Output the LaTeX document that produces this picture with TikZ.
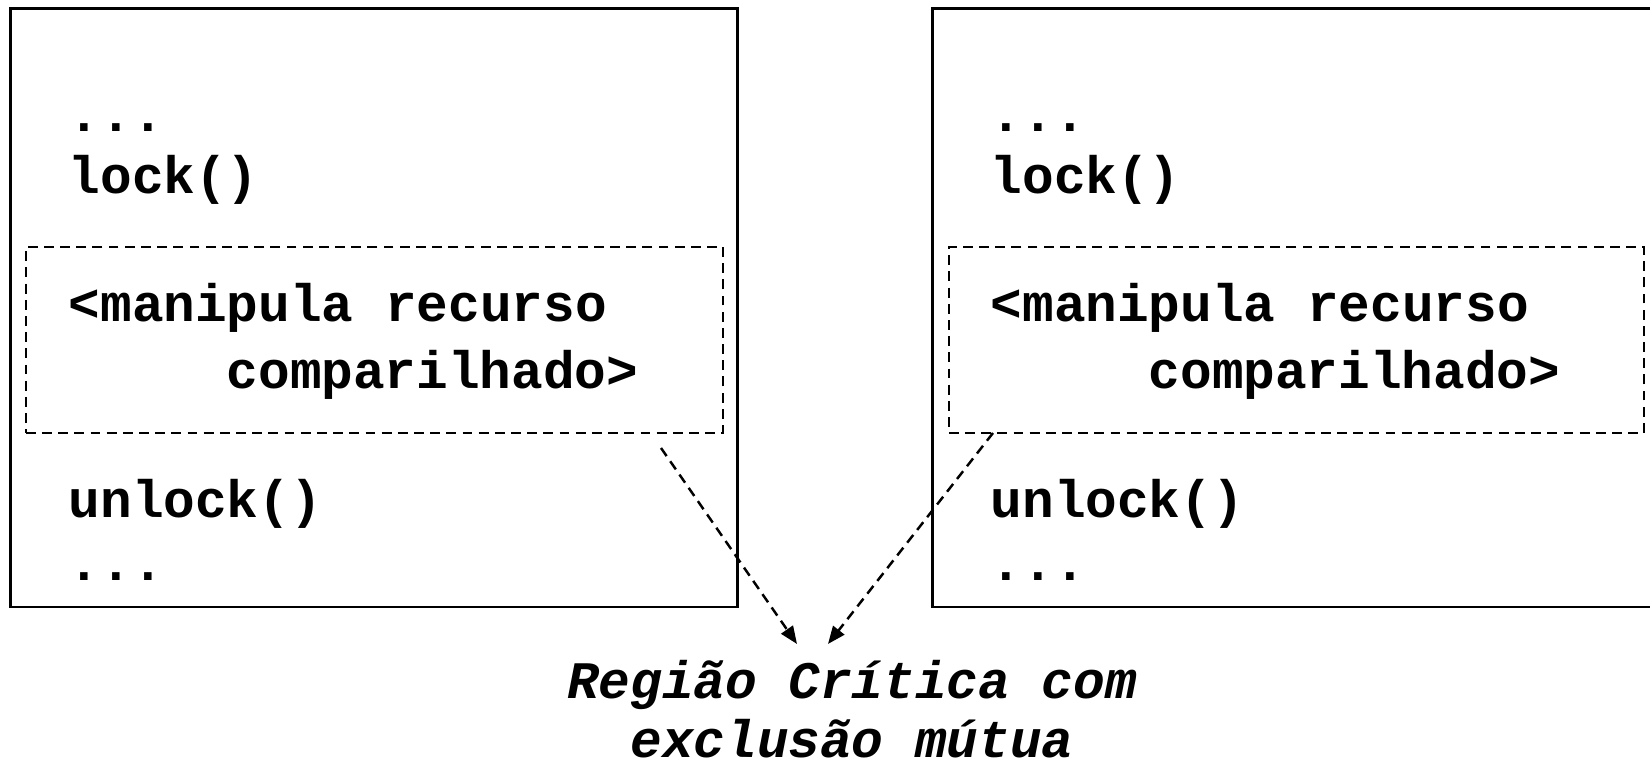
\documentclass[tikz,border=0pt]{standalone}
\usepackage{fontspec}
\setmonofont{Liberation Mono}
\usetikzlibrary{arrows.meta}

\tikzset{
    caixa/.style={draw, line width=0.75pt, rectangle, inner sep=0pt},
    regiaocritica/.style={draw, dashed, dash pattern=on 2.8pt off 1.8pt, line width=0.7pt, rectangle, inner sep=0pt, minimum height=1.86cm},
    codigo/.style={anchor=base west, inner sep=0pt, font=\ttfamily\bfseries\fontsize{15}{18}\selectfont},
    seta/.style={dashed, dash pattern=on 2.8pt off 1.8pt, line width=0.7pt, -{Triangle[length=5pt, width=4pt]}}
}

\begin{document}
\begin{tikzpicture}[x=0.01cm, y=-0.01cm]
        \useasboundingbox (0,0) rectangle (1650,762);
        \clip (0,0) rectangle (1650,762);

        % processos
        \node[caixa, minimum width=7.26cm, minimum height=5.98cm] (procA) at (374, 308) {};
        \node[caixa, minimum width=7.37cm, minimum height=5.98cm] (procB) at (1301.5, 308) {};

        % regioes criticas
        \node[regiaocritica, minimum width=6.97cm] (rcA) at (374.5, 340) {};
        \node[regiaocritica, minimum width=6.95cm] (rcB) at (1296.5, 340) {};

        % codigo do processo A
        \node[codigo] (pontosA1) at (68, 132) {...};
        \node[codigo] (lockA) at (68, 194) {lock()};
        \node[codigo] (manipA) at (68, 322) {<manipula recurso};
        \node[codigo] (compA) at (226, 389) {comparilhado>};
        \node[codigo] (unlockA) at (68, 518) {unlock()};
        \node[codigo] (pontosA2) at (68, 581) {...};

        % codigo do processo B
        \node[codigo] (pontosB1) at (990, 132) {...};
        \node[codigo] (lockB) at (990, 194) {lock()};
        \node[codigo] (manipB) at (990, 322) {<manipula recurso};
        \node[codigo] (compB) at (1148, 389) {comparilhado>};
        \node[codigo] (unlockB) at (990, 518) {unlock()};
        \node[codigo] (pontosB2) at (990, 581) {...};

        % legenda
        \node[anchor=base, inner sep=0pt, align=center, font=\ttfamily\bfseries\itshape\fontsize{15}{17}\selectfont] (regiao) at (852, 758) {Região Crítica com\\exclusão mútua};

        \coordinate (saidaA) at (661, 448);
        \coordinate (saidaB) at (993, 433);
        \coordinate (pontaA) at (797, 644);
        \coordinate (pontaB) at (828, 644);

        \draw[seta] (saidaA) -- (pontaA);
        \draw[seta] (saidaB) -- (pontaB);
    \end{tikzpicture}
\end{document}
